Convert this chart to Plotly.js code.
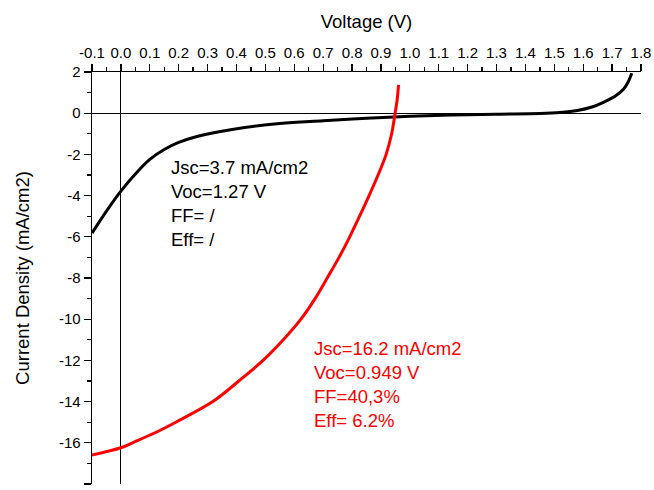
<!DOCTYPE html>
<html>
<head>
<meta charset="utf-8">
<script src="https://cdn.plot.ly/plotly-3.0.1.min.js"></script>
<style>
html,body{margin:0;padding:0;background:#fff;}
#chart{width:654px;height:490px;}
</style>
</head>
<body>
<div id="chart"></div>
<script>
// Black device (voltage V, current density mA/cm2)
const blackV = [-0.1, -0.05, 0.0, 0.05, 0.1, 0.15, 0.2, 0.26, 0.38, 0.55, 0.70, 0.85, 1.0, 1.15, 1.3, 1.45, 1.52, 1.58, 1.63, 1.67, 1.71, 1.74, 1.755, 1.768];
const blackJ = [-5.82, -4.75, -3.78, -2.95, -2.24, -1.76, -1.42, -1.14, -0.80, -0.50, -0.37, -0.25, -0.15, -0.09, -0.05, -0.02, 0.03, 0.13, 0.30, 0.53, 0.82, 1.17, 1.50, 1.94];

// Red device
const redV = [-0.1, 0.0, 0.040, 0.120, 0.190, 0.318, 0.408, 0.492, 0.562, 0.623, 0.672, 0.714, 0.755, 0.792, 0.826, 0.859, 0.890, 0.918, 0.937, 0.949, 0.956, 0.961];
const redJ = [-16.59, -16.24, -16.0, -15.5, -15.0, -14.0, -13.0, -12.0, -11.0, -10.0, -9.0, -8.0, -7.0, -6.0, -5.0, -4.0, -3.0, -2.0, -1.0, 0.0, 0.64, 1.37];

// Tick labels
const xTickVals = [-0.1,0.0,0.1,0.2,0.3,0.4,0.5,0.6,0.7,0.8,0.9,1.0,1.1,1.2,1.3,1.4,1.5,1.6,1.7,1.8];
const xTickText = ["-0.1","0.0","0.1","0.2","0.3","0.4","0.5","0.6","0.7","0.8","0.9","1.0","1.1","1.2","1.3","1.4","1.5","1.6","1.7","1.8"];
const yTickVals = [2,0,-2,-4,-6,-8,-10,-12,-14,-16,-18];
const yTickText = ["2","0","-2","-4","-6","-8","-10","-12","-14","-16","-18"];

// Annotation texts
const blackLabel = ["Jsc=3.7 mA/cm2", "Voc=1.27 V", "FF= /", "Eff= /"];
const redLabel = ["Jsc=16.2 mA/cm2", "Voc=0.949 V", "FF=40,3%", "Eff= 6.2%"];

const FONT = "Arial, 'Liberation Sans', sans-serif";

const traces = [
  {x: blackV, y: blackJ, type: 'scatter', mode: 'lines', line: {color: '#000000', width: 3, shape: 'spline', smoothing: 1}, hoverinfo: 'skip', showlegend: false},
  {x: redV, y: redJ, type: 'scatter', mode: 'lines', line: {color: '#ff0000', width: 3, shape: 'spline', smoothing: 1}, hoverinfo: 'skip', showlegend: false}
];

const layout = {
  width: 654, height: 490,
  margin: {l: 92, r: 13, t: 72, b: 6, pad: 0},
  paper_bgcolor: '#ffffff', plot_bgcolor: '#ffffff',
  font: {family: FONT, color: '#000000', size: 15},
  showlegend: false,
  xaxis: {
    side: 'top', range: [-0.1, 1.8], showgrid: false,
    showline: true, linecolor: '#000000', linewidth: 1.3,
    zeroline: true, zerolinecolor: '#000000', zerolinewidth: 1.2,
    ticks: 'outside', ticklen: 7, tickwidth: 1.3, tickcolor: '#000000',
    tickvals: xTickVals, ticktext: xTickText,
    tickfont: {family: FONT, size: 15, color: '#000000'},
    minor: {dtick: 0.05, ticks: 'outside', ticklen: 4, tickwidth: 1.3, tickcolor: '#000000', showgrid: false},
    title: {text: 'Voltage (V)', font: {family: FONT, size: 18.5, color: '#000000'}, standoff: 10},
    fixedrange: true
  },
  yaxis: {
    range: [-18, 2], showgrid: false,
    showline: true, linecolor: '#000000', linewidth: 1.3,
    zeroline: true, zerolinecolor: '#000000', zerolinewidth: 1.2,
    ticks: 'outside', ticklen: 7, tickwidth: 1.3, tickcolor: '#000000',
    tickvals: yTickVals, ticktext: yTickText,
    tickfont: {family: FONT, size: 15, color: '#000000'},
    minor: {dtick: 1, ticks: 'outside', ticklen: 4, tickwidth: 1.3, tickcolor: '#000000', showgrid: false},
    title: {text: 'Current Density (mA/cm2)', font: {family: FONT, size: 18.5, color: '#000000'}, standoff: 24},
    fixedrange: true
  },
  annotations: [
    {x: 0.1665, y: -4.36, xref: 'x', yref: 'y', xanchor: 'left', yanchor: 'middle', align: 'left',
     showarrow: false, text: blackLabel.join('<br>'), font: {family: FONT, size: 18.5, color: '#000000'}},
    {x: 0.66, y: -13.18, xref: 'x', yref: 'y', xanchor: 'left', yanchor: 'middle', align: 'left',
     showarrow: false, text: redLabel.join('<br>'), font: {family: FONT, size: 18.5, color: '#ff0000'}}
  ]
};

Plotly.newPlot('chart', traces, layout, {displayModeBar: false, staticPlot: true});
</script>
</body>
</html>
